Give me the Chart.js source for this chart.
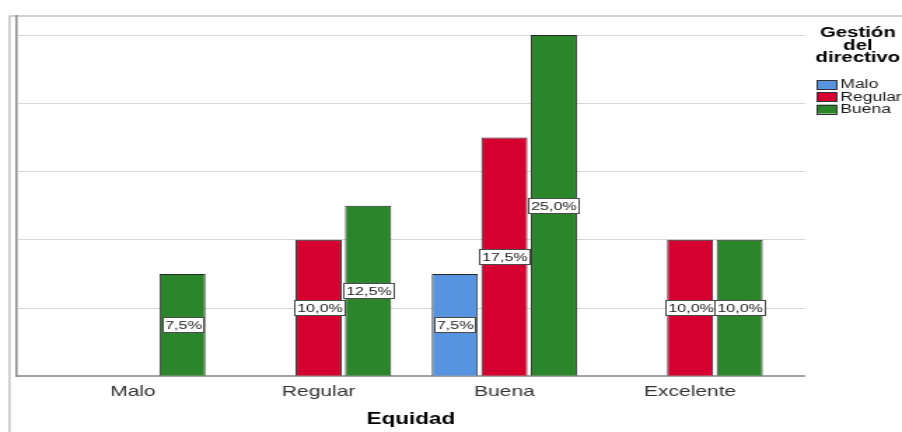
<!DOCTYPE html>
<html><head><meta charset="utf-8">
<script src="https://cdn.jsdelivr.net/npm/chart.js@4"></script>
<style>html,body{margin:0;padding:0;background:#fff;overflow:hidden}#c{display:block;background:#fff}</style>
</head><body>
<canvas id="c" width="644" height="432" style="width:902px;height:432px"></canvas>
<script>
// ---- data ----
const categories = ['Malo', 'Regular', 'Buena', 'Excelente'];
const seriesNames = ['Malo', 'Regular', 'Buena'];
const maloValues = [null, null, 7.5, null];
const regularValues = [null, 10.0, 17.5, 10.0];
const buenaValues = [7.5, 12.5, 25.0, 10.0];
const legendTitleLines = ['Gestión', 'del', 'directivo'];
const xAxisTitle = 'Equidad';

// ---- styles ----
const FONT = '"Liberation Sans", Arial, Helvetica, sans-serif';
const seriesColors = ['#5794e0', '#d5002f', '#2b862b'];
Chart.defaults.font.family = FONT;

const toPoints = arr => arr.map((v, i) => ({ x: i, y: v }));
const seriesValues = [maloValues, regularValues, buenaValues];

const framePlugin = {
  id: 'frame',
  beforeDraw(chart) {
    const ctx = chart.ctx;
    ctx.save();
    ctx.fillStyle = '#fff';
    ctx.fillRect(0, 0, chart.width, chart.height);
    ctx.strokeStyle = '#c4c4c4';
    ctx.lineWidth = 1.5;
    ctx.beginPath();
    ctx.moveTo(6.8, chart.height);
    ctx.lineTo(6.8, 16);
    ctx.lineTo(chart.width, 16);
    ctx.stroke();
    ctx.restore();
  }
};

const labelPlugin = {
  id: 'barLabels',
  afterDatasetsDraw(chart) {
    const ctx = chart.ctx;
    ctx.save();
    ctx.font = '11.5px ' + FONT;
    ctx.textAlign = 'center';
    ctx.textBaseline = 'middle';
    chart.data.datasets.forEach((ds, di) => {
      const meta = chart.getDatasetMeta(di);
      meta.data.forEach((bar, i) => {
        const v = ds.data[i].y;
        if (v === null || v === undefined) return;
        const txt = v.toFixed(1).replace('.', ',') + '%';
        const w = Math.round(ctx.measureText(txt).width + 3);
        const h = 15;
        const cx = bar.x, cy = (bar.y + bar.base) / 2;
        const lx = Math.round(cx - w / 2) + 0.5, ly = Math.round(cy - h / 2) + 0.5;
        ctx.fillStyle = '#fff';
        ctx.fillRect(lx, ly, w, h);
        ctx.strokeStyle = '#4a4a4a';
        ctx.lineWidth = 1;
        ctx.strokeRect(lx, ly, w, h);
        ctx.fillStyle = '#1a1a1a';
        ctx.fillText(txt, lx + w / 2, ly + h / 2 + 0.5);
      });
    });
    ctx.restore();
  }
};

const legendPlugin = {
  id: 'sideLegend',
  afterDraw(chart) {
    const ctx = chart.ctx;
    ctx.save();
    ctx.fillStyle = '#000';
    ctx.font = 'bold 14.5px ' + FONT;
    ctx.textAlign = 'center';
    ctx.textBaseline = 'alphabetic';
    legendTitleLines.forEach((t, i) => ctx.fillText(t, 612.5, 37 + i * 12.5));
    ctx.font = '12.5px ' + FONT;
    ctx.textAlign = 'left';
    ctx.textBaseline = 'middle';
    chart.data.datasets.forEach((ds, i) => {
      const top = 80 + i * 12.3;
      ctx.fillStyle = ds.backgroundColor;
      ctx.fillRect(583.5, top, 14, 9);
      ctx.strokeStyle = '#333';
      ctx.lineWidth = 1;
      ctx.strokeRect(583.5, Math.round(top) + 0.5, 14, 9);
      ctx.fillStyle = '#1a1a1a';
      ctx.fillText(ds.label, 600, top + 5);
    });
    ctx.restore();
  }
};

new Chart(document.getElementById('c'), {
  type: 'bar',
  data: {
    datasets: seriesNames.map((name, i) => ({
      label: name,
      data: toPoints(seriesValues[i]),
      backgroundColor: seriesColors[i],
      borderColor: '#262626',
      borderWidth: 1,
      categoryPercentage: 0.8,
      barPercentage: 0.93
    }))
  },
  options: {
    responsive: false,
    animation: false,
    devicePixelRatio: 1,
    layout: { padding: { left: 12, right: 69.3, top: 16, bottom: 3 } },
    plugins: { legend: { display: false }, tooltip: { enabled: false } },
    scales: {
      x: {
        type: 'linear',
        offset: false,
        min: -0.625,
        max: 3.618,
        grid: { display: false, drawTicks: false },
        border: { display: true, color: '#a3a3a3', width: 2 },
        ticks: {
          stepSize: 1,
          includeBounds: false,
          autoSkip: false,
          maxRotation: 0,
          padding: 6.5,
          color: '#333',
          font: { size: 15 },
          callback: v => (Number.isInteger(v) && v >= 0 && v < categories.length) ? categories[v] : ''
        },
        title: {
          display: true,
          text: xAxisTitle,
          color: '#000',
          font: { size: 16, weight: 'bold' },
          padding: { top: 2.5, bottom: 0 }
        }
      },
      y: {
        min: 0,
        max: 26.4,
        ticks: { display: false, stepSize: 5 },
        grid: {
          drawTicks: false,
          lineWidth: 1,
          color: c => (c.tick && c.tick.value > 0 && c.tick.value % 5 === 0 && c.tick.value <= 25) ? '#d6d6d6' : 'rgba(0,0,0,0)'
        },
        border: { display: true, color: '#8a8a8a', width: 1.5 }
      }
    }
  },
  plugins: [framePlugin, labelPlugin, legendPlugin]
});
</script>
</body></html>
